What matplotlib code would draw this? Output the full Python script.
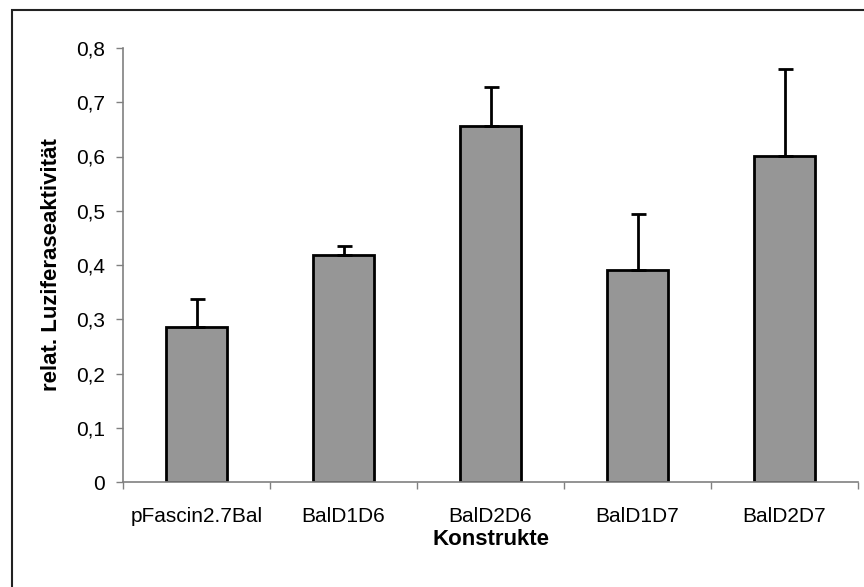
import matplotlib
matplotlib.use("Agg")
import matplotlib.pyplot as plt
from matplotlib.patches import Rectangle
from matplotlib.ticker import FuncFormatter, FixedLocator

categories = ["pFascin2.7Bal", "BalD1D6", "BalD2D6", "BalD1D7", "BalD2D7"]
values = [0.286, 0.418, 0.656, 0.391, 0.601]
errors = [0.051, 0.017, 0.072, 0.103, 0.160]

plt.rcParams['font.family'] = ['Liberation Sans', 'DejaVu Sans']

fig = plt.figure(figsize=(8.64, 5.87), dpi=100)
ax = fig.add_axes([123/864, 1-482/587, (858-123)/864, (482-48)/587])

x = list(range(len(categories)))
ax.bar(x, values, width=0.41, color='#969696', edgecolor='black', linewidth=2, zorder=2)
ax.errorbar(x, values, yerr=[[0]*len(errors), errors], fmt='none', ecolor='black',
            elinewidth=2, capsize=5.4, capthick=2, zorder=3)

ax.set_xlim(-0.5, len(categories)-0.5)
ax.set_ylim(0, 0.8)
ax.set_yticks([i/10 for i in range(9)])
ax.yaxis.set_major_formatter(FuncFormatter(lambda v, p: "0" if abs(v) < 1e-9 else f"{v:.1f}".replace('.', ',')))
ax.set_xticks(x)
ax.set_xticklabels(categories)
ax.tick_params(axis='x', which='major', length=0, pad=18, labelsize=15)
ax.xaxis.set_minor_locator(FixedLocator([i+0.5 for i in range(-1, len(categories))]))
ax.tick_params(axis='x', which='minor', length=5, width=1, color='#808080', direction='out')
ax.tick_params(axis='y', length=5, width=1, color='#808080', labelsize=15, pad=8)

for s in ['top', 'right']:
    ax.spines[s].set_visible(False)
for s in ['left', 'bottom']:
    ax.spines[s].set_color('#808080')
    ax.spines[s].set_linewidth(1.2)

ax.set_xlabel("Konstrukte", fontsize=16, fontweight='bold', labelpad=2)
ax.set_ylabel("relat. Luziferaseaktivität", fontsize=16, fontweight='bold', labelpad=10)

fig.patches.append(Rectangle((12/864, -0.1), 1.2, 1-10/587+0.1, transform=fig.transFigure,
                             fill=False, edgecolor='#222222', linewidth=1.5))

fig.savefig("out.png", dpi=100)
